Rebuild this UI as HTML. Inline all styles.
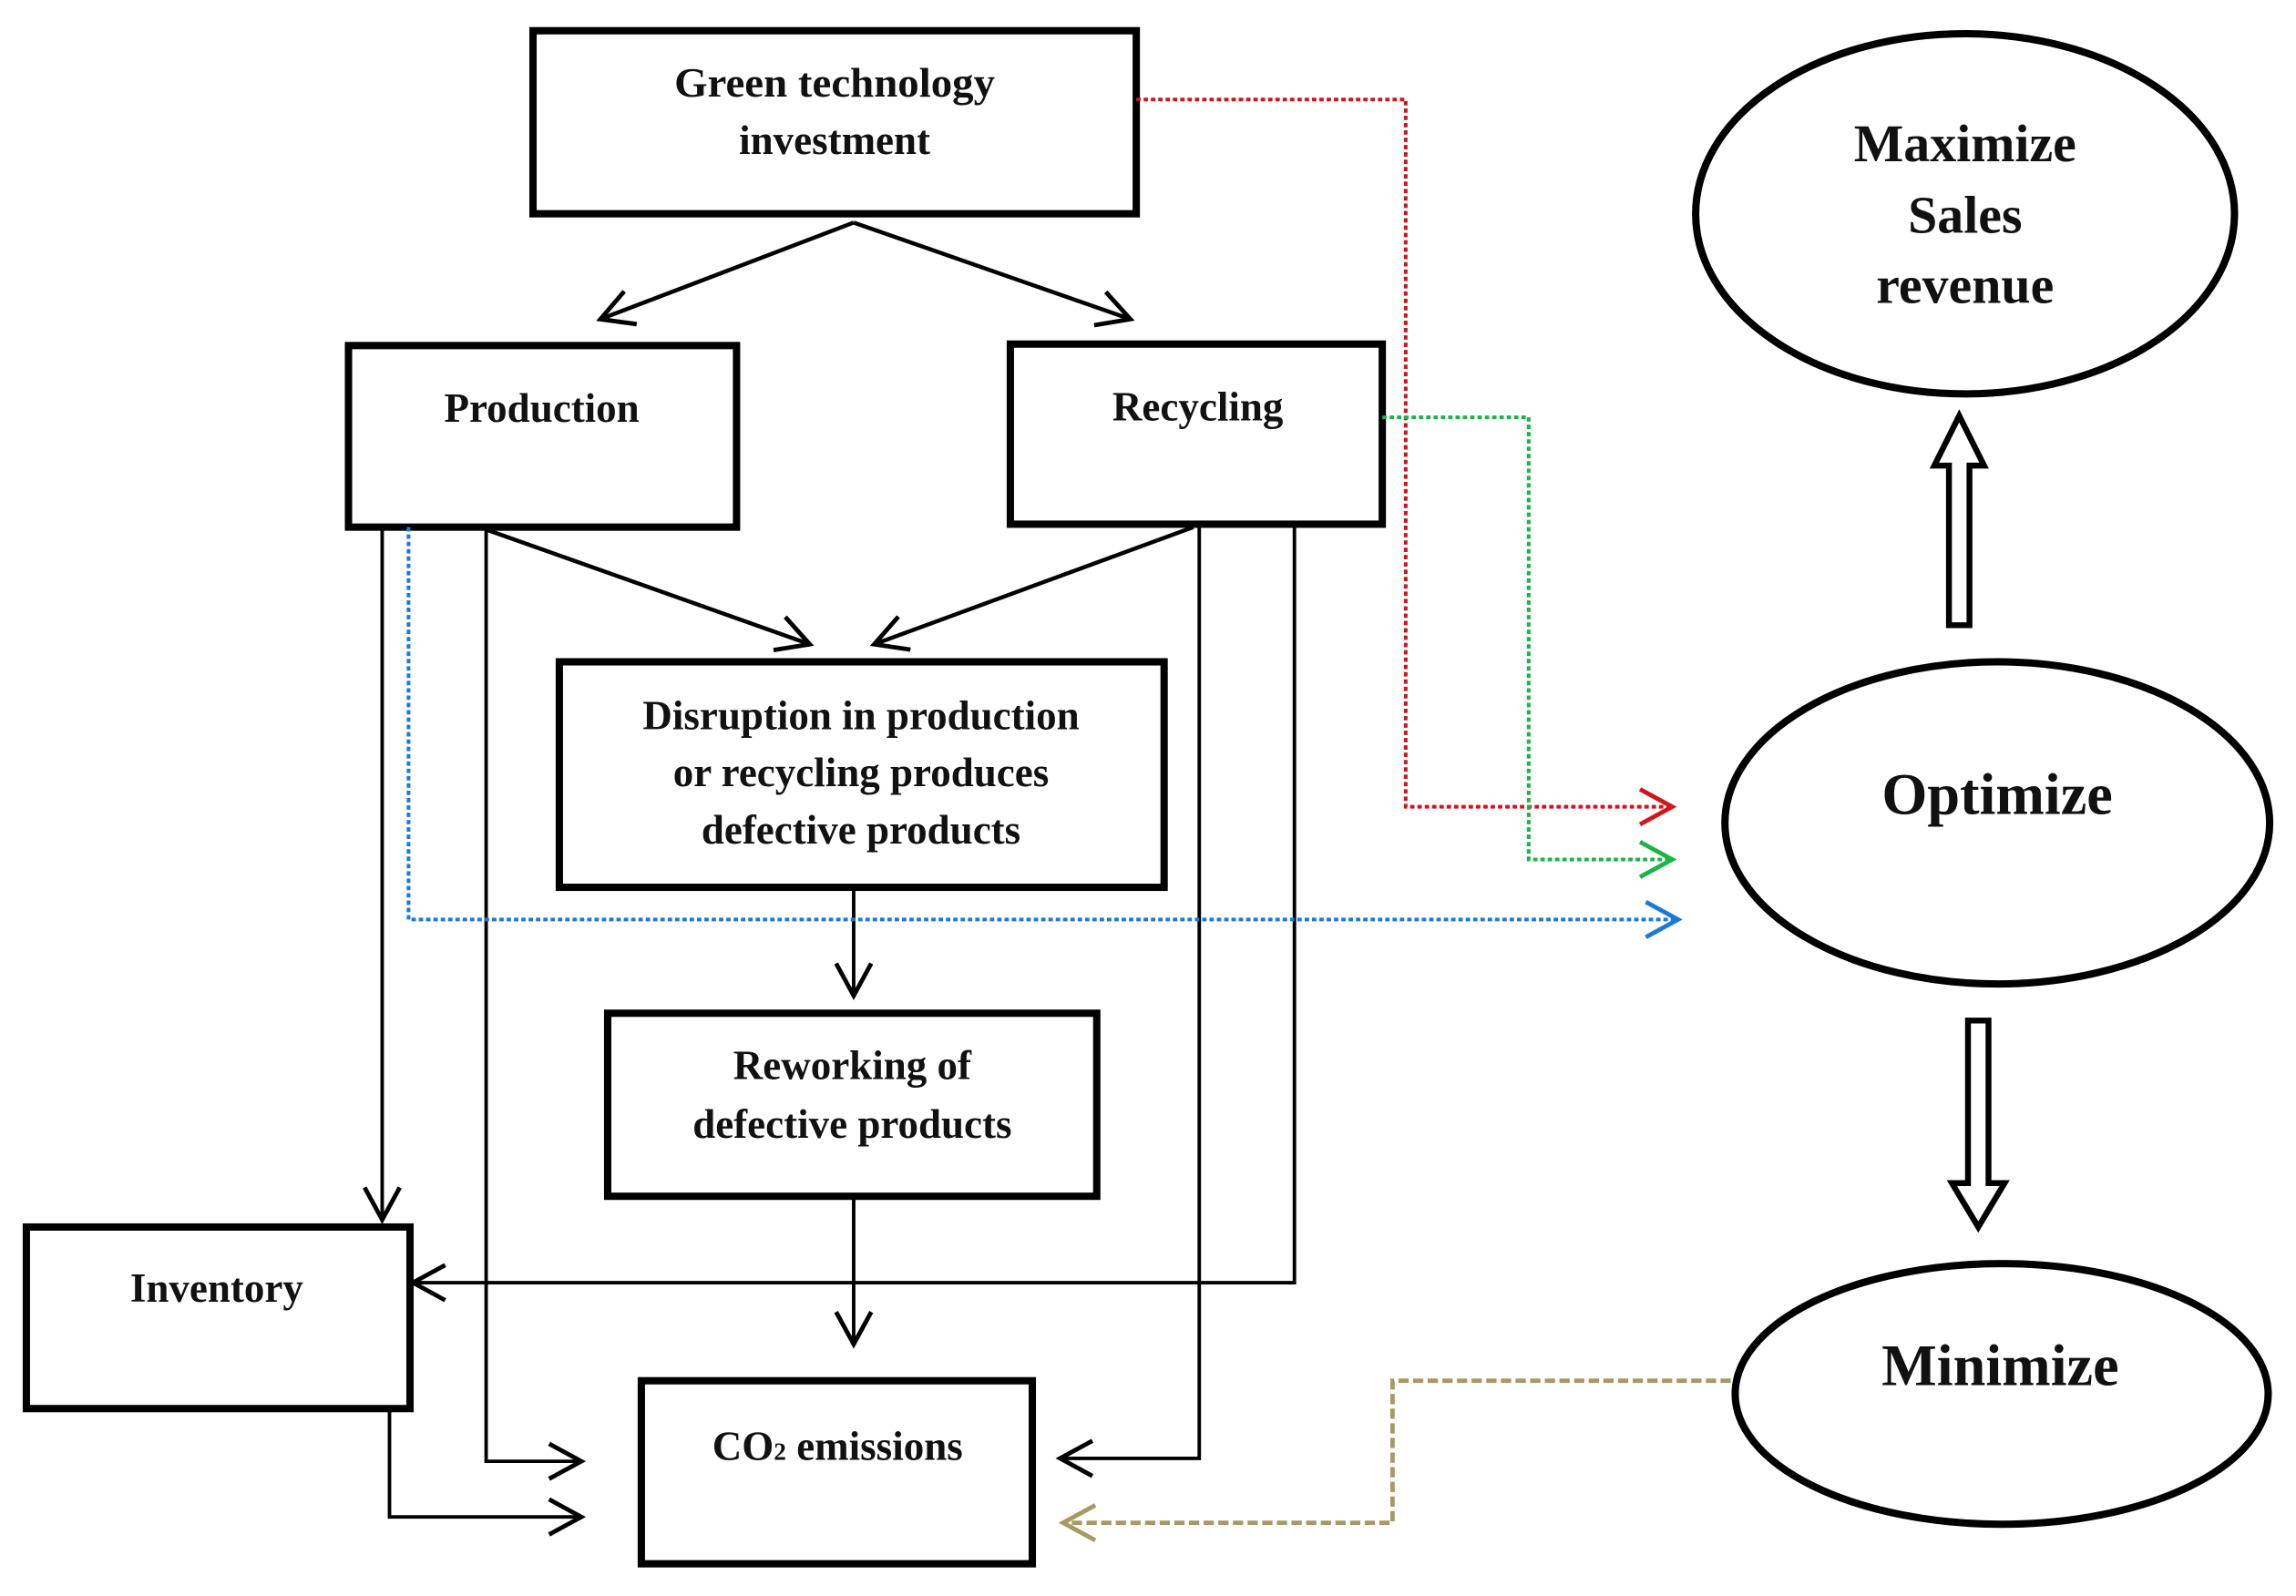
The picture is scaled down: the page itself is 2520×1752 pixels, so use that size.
<!DOCTYPE html>
<html><head><meta charset="utf-8"><style>
html,body{margin:0;padding:0;background:#fff}
svg{display:block}
text{font-family:"Liberation Serif",serif;font-weight:bold;fill:#111}
</style></head><body>
<svg width="2520" height="1752" viewBox="0 0 1568 1090" preserveAspectRatio="none" xmlns="http://www.w3.org/2000/svg">
<defs>
<marker id="ab2" markerWidth="30" markerHeight="30" refX="26" refY="15" orient="auto" markerUnits="userSpaceOnUse" viewBox="0 0 30 30"><path d="M4,3 L26,15 L4,27" fill="none" stroke="#000" stroke-width="3"/></marker>
<marker id="ar" markerWidth="30" markerHeight="30" refX="26" refY="15" orient="auto" markerUnits="userSpaceOnUse" viewBox="0 0 30 30"><path d="M4,3 L26,15 L4,27" fill="none" stroke="#d0151b" stroke-width="3"/></marker>
<marker id="ag" markerWidth="30" markerHeight="30" refX="26" refY="15" orient="auto" markerUnits="userSpaceOnUse" viewBox="0 0 30 30"><path d="M4,3 L26,15 L4,27" fill="none" stroke="#1cb34a" stroke-width="3"/></marker>
<marker id="abl" markerWidth="30" markerHeight="30" refX="26" refY="15" orient="auto" markerUnits="userSpaceOnUse" viewBox="0 0 30 30"><path d="M4,3 L26,15 L4,27" fill="none" stroke="#1a7ad6" stroke-width="3"/></marker>
<marker id="ao" markerWidth="30" markerHeight="30" refX="26" refY="15" orient="auto" markerUnits="userSpaceOnUse" viewBox="0 0 30 30"><path d="M4,3 L26,15 L4,27" fill="none" stroke="#a59a63" stroke-width="3"/></marker>
</defs>
<g fill="none" stroke="#000" stroke-width="5">
<rect x="364" y="21" width="412" height="125"/>
<rect x="238" y="236" width="265" height="124"/>
<rect x="690" y="235" width="254" height="123"/>
<rect x="382" y="452" width="413" height="154"/>
<rect x="415" y="692" width="334" height="125"/>
<rect x="18" y="838" width="262" height="124"/>
<rect x="438" y="943" width="267" height="125"/>
<ellipse cx="1342" cy="146" rx="184" ry="123"/>
<ellipse cx="1364" cy="562" rx="186" ry="110"/>
<ellipse cx="1367" cy="952" rx="182" ry="89"/>
</g>
<g fill="none" stroke="#000" stroke-width="2.8" marker-end="url(#ab2)">
<path d="M583,152 L410,218"/>
<path d="M583,152 L772,218"/>
<path d="M333,362 L553,440"/>
<path d="M815,360 L597,440"/>
</g>
<g fill="none" stroke="#000" stroke-width="2.4" marker-end="url(#ab2)">
<path d="M583,606 L583,680"/>
<path d="M583,817 L583,918"/>
<path d="M261,360 L261,833"/>
<path d="M332,360 L332,998 L397,998"/>
<path d="M266,962 L266,1036 L397,1036"/>
<path d="M819,358 L819,996 L724,996"/>
<path d="M884,358 L884,876 L282,876"/>
</g>
<g fill="none" stroke-width="2.5">
<path d="M776,68 L960,68 L960,551 L1142,551" stroke="#d0151b" stroke-dasharray="3,2" marker-end="url(#ar)"/>
<path d="M944,285 L1044,285 L1044,587 L1142,587" stroke="#1cb34a" stroke-dasharray="3,2" marker-end="url(#ag)"/>
<path d="M279,360 L279,628 L1146,628" stroke="#1a7ad6" stroke-dasharray="3,2" marker-end="url(#abl)"/>
<path d="M1182,943 L951,943 L951,1040 L726,1040" stroke="#a59a63" stroke-width="3" stroke-dasharray="7,3" marker-end="url(#ao)"/>
</g>
<g fill="#fff" stroke="#000" stroke-width="4">
<path d="M1331,427 L1331,318 L1321,318 L1338,284 L1355,318 L1345,318 L1345,427 Z"/>
<path d="M1344,697 L1344,808 L1333,808 L1351,838 L1369,808 L1358,808 L1358,697 Z"/>
</g>
<g font-size="28" text-anchor="middle">
<text x="570" y="66" textLength="219" lengthAdjust="spacingAndGlyphs">Green technology</text>
<text x="570" y="105">investment</text>
<text x="370" y="288">Production</text>
<text x="818" y="287">Recycling</text>
<text x="588" y="498">Disruption in production</text>
<text x="588" y="537">or recycling produces</text>
<text x="588" y="576">defective products</text>
<text x="582" y="737">Reworking of</text>
<text x="582" y="777">defective products</text>
<text x="148" y="889">Inventory</text>
<text x="572" y="997">CO<tspan font-size="17">2</tspan> emissions</text>
</g>
<g font-size="36" text-anchor="middle">
<text x="1342" y="110">Maximize</text>
<text x="1342" y="159">Sales</text>
<text x="1342" y="207">revenue</text>
<text x="1364" y="556" font-size="40">Optimize</text>
<text x="1366" y="946" font-size="40">Minimize</text>
</g>
</svg>
</body></html>
